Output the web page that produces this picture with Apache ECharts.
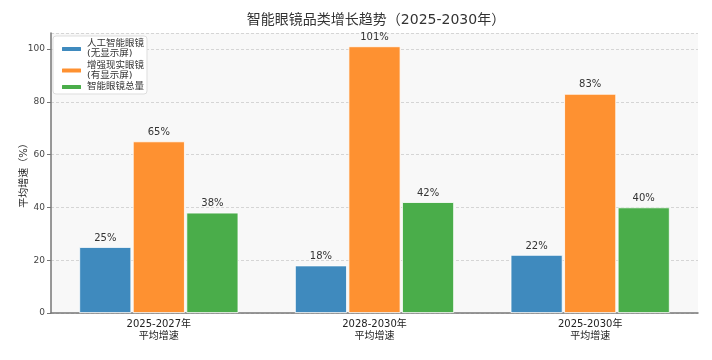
<!DOCTYPE html>
<html><head><meta charset="utf-8">
<script src="https://cdn.jsdelivr.net/npm/echarts@6/dist/echarts.min.js"></script>
<style>html,body{margin:0;padding:0;background:#fff}#c{width:712px;height:360px}</style>
</head><body><div id="c"></div>
<script>
var categories = ['2025-2027年\n平均增速', '2028-2030年\n平均增速', '2025-2030年\n平均增速'];
var seriesNames = ['人工智能眼镜\n(无显示屏)', '增强现实眼镜\n(有显示屏)', '智能眼镜总量'];
var aiGlasses = [25, 18, 22];
var arGlasses = [65, 101, 83];
var totalGlasses = [38, 42, 40];
var yTicks = [0, 20, 40, 60, 80, 100];
var colors = ['#3f8abe', '#fe9131', '#4aad4a'];
var FONT = 'DejaVu Sans, "Noto Sans CJK SC", sans-serif';

var chart = echarts.init(document.getElementById('c'));
function mk(name, data, color) {
  return {
    name: name, type: 'bar', data: data, barWidth: 52, barGap: '3%',
    itemStyle: { color: color, borderColor: '#ffffff', borderWidth: 0.8 },
    label: { show: true, position: 'top', distance: 4, formatter: '{c}%', color: '#333', fontSize: 10, fontFamily: FONT }
  };
}
chart.setOption({
  animation: false,
  backgroundColor: '#ffffff',
  textStyle: { fontFamily: FONT },
  title: { text: '智能眼镜品类增长趋势（2025-2030年）', left: 371, textAlign: 'center', top: 8,
    textStyle: { fontSize: 14, fontWeight: 'normal', color: '#333', fontFamily: FONT } },
  legend: {
    orient: 'vertical', left: 53, top: 36, itemWidth: 21, itemHeight: 6, itemGap: 1.5,
    backgroundColor: '#ffffff', borderColor: '#dddddd', borderWidth: 1, borderRadius: 3,
    padding: [3, 3, 2, 7],
    textStyle: { fontSize: 9.5, color: '#333', fontFamily: FONT, lineHeight: 10 },
    data: seriesNames
  },
  grid: { left: 51, right: 14, top: 33, bottom: 47, show: true, backgroundColor: '#f8f8f8', borderWidth: 0 },
  xAxis: {
    type: 'category', data: categories,
    axisLine: { lineStyle: { color: '#777', width: 1.5 } },
    axisTick: { alignWithLabel: true, length: 4, lineStyle: { color: '#777' } },
    axisLabel: { fontSize: 10, color: '#222', margin: 5, lineHeight: 12, fontFamily: FONT }
  },
  yAxis: {
    type: 'value', min: 0, max: 106.05, interval: 20,
    name: '平均增速（%）', nameLocation: 'middle', nameGap: 22, nameMoveOverlap: false,
    nameTextStyle: { fontSize: 10, color: '#222', fontFamily: FONT },
    axisLine: { show: true, lineStyle: { color: '#777', width: 1.5 } },
    axisTick: { show: true, length: 4, lineStyle: { color: '#777' } },
    axisLabel: { fontSize: 9, color: '#444', margin: 6, showMaxLabel: false, fontFamily: FONT,
      formatter: function (v) { return yTicks.indexOf(v) >= 0 ? String(v) : ''; } },
    splitLine: { show: true, lineStyle: { color: '#cccccc', type: [3, 2], width: 0.8 } }
  },
  series: [
    mk(seriesNames[0], aiGlasses, colors[0]),
    mk(seriesNames[1], arGlasses, colors[1]),
    mk(seriesNames[2], totalGlasses, colors[2])
  ]
});
</script></body></html>
